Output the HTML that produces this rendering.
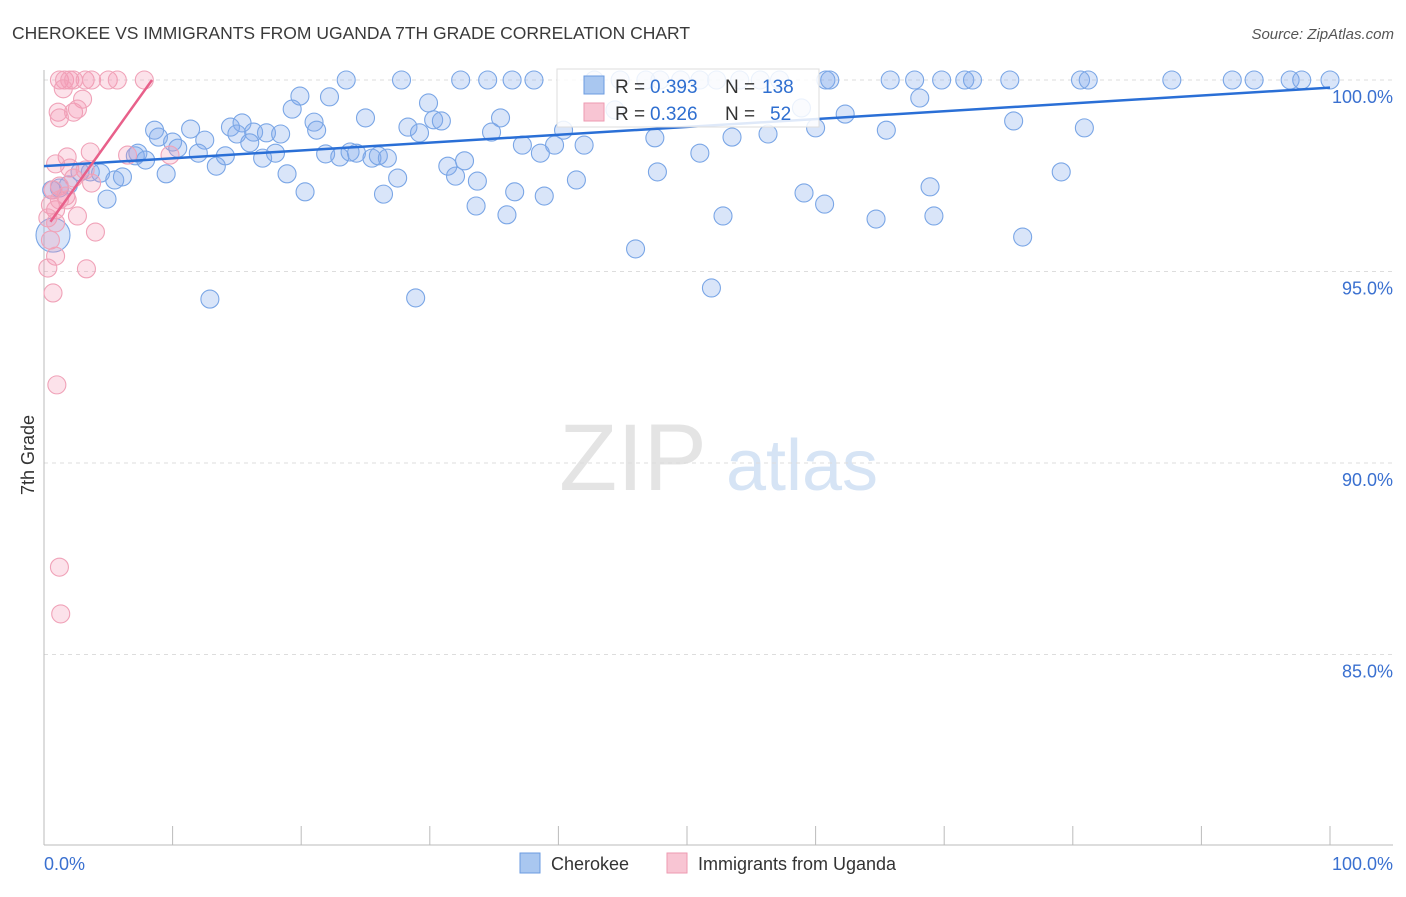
<!DOCTYPE html>
<html><head><meta charset="utf-8"><style>
body{margin:0;background:#fff;font-family:"Liberation Sans",sans-serif}
svg text{font-family:"Liberation Sans",sans-serif}
</style></head><body>
<svg id="chart" width="1406" height="892">
<text x="12" y="39" font-size="17.5" fill="#3a3a3a">CHEROKEE VS IMMIGRANTS FROM UGANDA 7TH GRADE CORRELATION CHART</text>
<text x="1394" y="39" font-size="15" fill="#555" text-anchor="end" font-style="italic">Source: ZipAtlas.com</text>
<g><text x="633" y="490" font-size="95" fill="#e4e4e4" text-anchor="middle" font-family="Liberation Serif">ZIP</text><text x="802" y="490" font-size="72" fill="#d6e4f5" text-anchor="middle">atlas</text></g>
<g id="grid"></g><g id="axes"></g><g id="pts"></g><g id="trend"></g>
<text transform="translate(34,455) rotate(-90)" font-size="18" fill="#333" text-anchor="middle">7th Grade</text>
<g>
<rect x="557" y="69" width="262" height="58" fill="#fff" fill-opacity="0.85" stroke="#ddd"/>
<rect x="584" y="76" width="20" height="18" fill="#a9c7f0" stroke="#6b9be0"/>
<text x="615" y="93" font-size="19" fill="#333">R =</text>
<text x="650" y="93" font-size="19" fill="#2f6fd0">0.393</text>
<text x="725" y="93" font-size="19" fill="#333">N =</text>
<text x="762" y="93" font-size="19" fill="#2f6fd0">138</text>
<rect x="584" y="103" width="20" height="18" fill="#f8c5d3" stroke="#ee9ab2"/>
<text x="615" y="120" font-size="19" fill="#333">R =</text>
<text x="650" y="120" font-size="19" fill="#2f6fd0">0.326</text>
<text x="725" y="120" font-size="19" fill="#333">N =</text>
<text x="770" y="120" font-size="19" fill="#2f6fd0">52</text>
</g>
<g>
<rect x="520" y="853" width="20" height="20" fill="#a9c7f0" stroke="#6b9be0"/>
<text x="551" y="870" font-size="18" fill="#333">Cherokee</text>
<rect x="667" y="853" width="20" height="20" fill="#f8c5d3" stroke="#ee9ab2"/>
<text x="698" y="870" font-size="18" fill="#333">Immigrants from Uganda</text>
</g>
</svg>
<script>
const yTicks=[100,95,90,85];
const xTickLabels=["0.0%","100.0%"];
const blueX=[23.5,27.8,32.4,34.5,36.4,38.1,42.8,44.8,46.8,47.9,49.5,51,52.3,54.1,55.7,57.2,60.8,61.1,65.8,67.7,69.8,71.6,72.2,75.1,80.6,81.2,87.7,92.4,94.1,96.9,97.8,100,
19.9,22.2,68.1,19.3,29.9,58.9,8.6,8.9,11.4,10,12.5,14.5,15.4,15,16.3,17.3,18.4,21,21.2,25,28.3,29.2,30.3,30.9,35.5,34.8,40.4,44.4,47.5,53.5,56.3,60,62.3,65.5,75.4,80.9,
7.1,7.3,7.9,10.4,12,13.4,14.1,16,17,18,18.9,20.3,21.9,23,23.8,24.3,25.5,26,26.7,27.5,26.4,31.4,32,32.7,33.7,33.6,36,36.6,37.2,38.6,38.9,39.7,42,41.4,46,47.7,51,52.8,51.9,59.1,60.7,64.7,68.9,69.2,76.1,79.1,12.9,28.9,2.8,3.6,4.4,4.9,5.5,6.1,1.9,1.2,0.6,9.5,0.7];
const blueY=[100,100,100,100,100,100,100,100,100,100,100,100,100,100,100,100,100,100,100,100,100,100,100,100,100,100,100,100,100,100,100,100,
99.58,99.56,99.53,99.24,99.4,99.27,98.69,98.51,98.72,98.38,98.43,98.77,98.88,98.59,98.64,98.62,98.59,98.9,98.69,99.01,98.77,98.62,98.96,98.93,99.01,98.64,98.69,99.22,98.49,98.51,98.59,98.75,99.11,98.69,98.93,98.75,
98.02,98.09,97.91,98.22,98.09,97.75,98.02,98.36,97.96,98.09,97.55,97.08,98.07,97.99,98.12,98.09,97.96,98.02,97.96,97.44,97.02,97.75,97.49,97.89,97.36,96.71,96.48,97.08,98.3,98.09,96.97,98.3,98.3,97.39,95.59,97.6,98.09,96.45,94.57,97.05,96.76,96.37,97.21,96.45,95.9,97.6,94.28,94.31,97.6,97.6,97.57,96.89,97.39,97.47,97.26,97.18,97.13,97.55,95.95];
const pinkX=[1.2,1.6,2,2.3,3.2,3.7,5,5.7,7.8,1.5,3,1.1,2.3,1.2,2.6,3.6,1.8,0.9,2,3.2,2.3,3.7,1.2,0.7,1.7,0.5,0.9,1.2,1.8,2.6,0.3,0.9,4,0.5,0.9,0.3,3.3,0.7,1,1.2,1.3,6.5,9.8];
const pinkY=[100,100,100,100,100,100,100,100,100,99.77,99.5,99.16,99.16,99.01,99.24,98.12,97.99,97.81,97.7,97.65,97.44,97.31,97.23,97.13,96.97,96.74,96.61,96.87,96.87,96.45,96.4,96.27,96.03,95.82,95.4,95.09,95.07,94.44,92.04,87.28,86.06,98.04,98.04];
const blueTrend=[[0,97.75],[100,99.8]];
const pinkTrend=[[0.5,96.3],[8.4,100]];
const X=v=>44+v*12.86, Y=v=>80+(100-v)*38.3;
const NS="http://www.w3.org/2000/svg";
function mk(p,t,a){const e=document.createElementNS(NS,t);for(const k in a)e.setAttribute(k,a[k]);p.appendChild(e);return e;}
const grid=document.getElementById('grid'),axes=document.getElementById('axes'),pts=document.getElementById('pts'),tr=document.getElementById('trend');
yTicks.forEach(t=>{const l=mk(grid,'line',{x1:44,x2:1393,y1:Y(t),y2:Y(t),stroke:'#ddd','stroke-dasharray':'4,4'});


const tx=mk(axes,'text',{x:1393,y:Y(t)+23,'font-size':18,fill:'#3a70d0','text-anchor':'end'});tx.textContent=t.toFixed(1)+'%';

});
mk(axes,'line',{x1:44,x2:44,y1:70,y2:845,stroke:'#bbb'});
mk(axes,'line',{x1:44,x2:1393,y1:845,y2:845,stroke:'#bbb'});
for(let i=0;i<=10;i++){const l=mk(axes,'line',{x1:X(i*10),x2:X(i*10),y1:826,y2:845,stroke:'#bbb'});

}
xTickLabels.forEach((s,i)=>{const t=mk(axes,'text',{x:i?1393:44,y:870,'font-size':18,fill:'#3a70d0','text-anchor':i?'end':'start'});t.textContent=s;

});
blueX.forEach((x,i)=>{const c=mk(pts,'circle',{cx:X(x),cy:Y(blueY[i]),r:(i==blueX.length-1)?17:9,fill:'rgba(130,170,235,0.3)',stroke:'#7aa6e6','stroke-width':1.1});

});
pinkX.forEach((x,i)=>{const c=mk(pts,'circle',{cx:X(x),cy:Y(pinkY[i]),r:9,fill:'rgba(245,150,178,0.28)',stroke:'#f0a2b8','stroke-width':1.1});

});
const b=mk(tr,'line',{x1:X(blueTrend[0][0]),y1:Y(blueTrend[0][1]),x2:X(blueTrend[1][0]),y2:Y(blueTrend[1][1]),stroke:'#2a6fd6','stroke-width':2.5});


const p=mk(tr,'line',{x1:X(pinkTrend[0][0]),y1:Y(pinkTrend[0][1]),x2:X(pinkTrend[1][0]),y2:Y(pinkTrend[1][1]),stroke:'#e8608a','stroke-width':2.5});


</script>
</body></html>
